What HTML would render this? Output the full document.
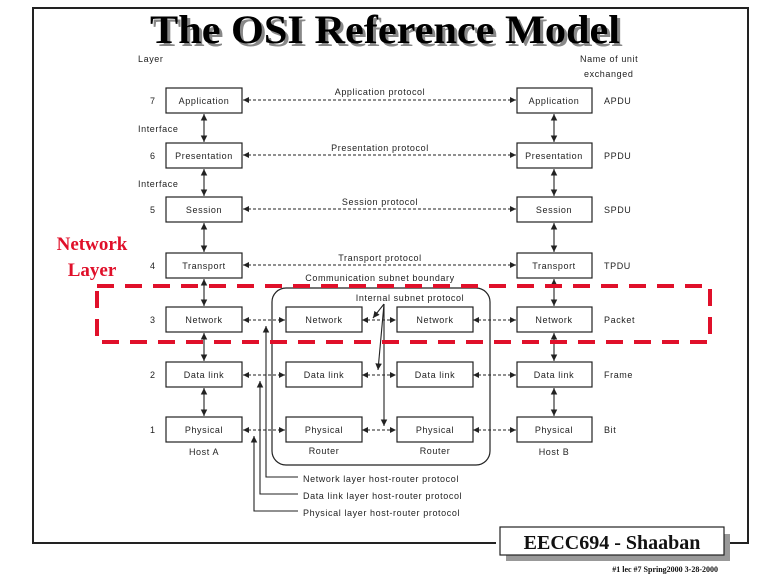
<!DOCTYPE html>
<html><head><meta charset="utf-8"><style>
html,body{margin:0;padding:0;background:#fff;width:768px;height:576px;overflow:hidden}
svg{display:block}
.t{font-family:"Liberation Sans",sans-serif;font-size:9px;fill:#222;letter-spacing:0.6px}
.b{fill:#fff;stroke:#222;stroke-width:1.2}
.d{stroke:#222;stroke-width:1;stroke-dasharray:3,2;fill:none}
.s{stroke:#222;stroke-width:1.1;fill:none}
</style></head><body>
<svg width="768" height="576" viewBox="0 0 768 576">
<defs>
<marker id="a" viewBox="0 0 6 6" refX="6" refY="3" markerWidth="6" markerHeight="6" orient="auto-start-reverse"><path d="M0,0L6,3L0,6z" fill="#222"/></marker>
</defs>
<rect x="33" y="8" width="715" height="535" fill="none" stroke="#222" stroke-width="2"/>
<text x="388" y="46" text-anchor="middle" font-family="Liberation Serif,serif" font-weight="bold" font-size="40" fill="#888" textLength="470" lengthAdjust="spacingAndGlyphs">The OSI Reference Model</text>
<text x="385" y="43" text-anchor="middle" font-family="Liberation Serif,serif" font-weight="bold" font-size="40" fill="#000" textLength="470" lengthAdjust="spacingAndGlyphs">The OSI Reference Model</text>
<text class="t" x="138" y="62">Layer</text>
<text class="t" x="580" y="62">Name of unit</text>
<text class="t" x="584" y="77">exchanged</text>
<text class="t" x="138" y="132">Interface</text>
<text class="t" x="138" y="187">Interface</text>
<text font-family="Liberation Serif,serif" font-weight="bold" font-size="19" fill="#e0102a" x="92" y="250" text-anchor="middle">Network</text>
<text font-family="Liberation Serif,serif" font-weight="bold" font-size="19" fill="#e0102a" x="92" y="276" text-anchor="middle">Layer</text>
<rect x="272" y="288" width="218" height="177" rx="14" fill="none" stroke="#222" stroke-width="1.2"/>
<text class="t" x="380" y="281" text-anchor="middle">Communication subnet boundary</text>
<text class="t" x="410" y="301" text-anchor="middle">Internal subnet protocol</text>
<!-- vertical host segments -->
<g>
<line class="s" x1="204" y1="114" x2="204" y2="142" marker-start="url(#a)" marker-end="url(#a)"/>
<line class="s" x1="204" y1="169" x2="204" y2="196" marker-start="url(#a)" marker-end="url(#a)"/>
<line class="s" x1="204" y1="223" x2="204" y2="252" marker-start="url(#a)" marker-end="url(#a)"/>
<line class="s" x1="204" y1="279" x2="204" y2="306" marker-start="url(#a)" marker-end="url(#a)"/>
<line class="s" x1="204" y1="333" x2="204" y2="361" marker-start="url(#a)" marker-end="url(#a)"/>
<line class="s" x1="204" y1="388" x2="204" y2="416" marker-start="url(#a)" marker-end="url(#a)"/>
<line class="s" x1="554" y1="114" x2="554" y2="142" marker-start="url(#a)" marker-end="url(#a)"/>
<line class="s" x1="554" y1="169" x2="554" y2="196" marker-start="url(#a)" marker-end="url(#a)"/>
<line class="s" x1="554" y1="223" x2="554" y2="252" marker-start="url(#a)" marker-end="url(#a)"/>
<line class="s" x1="554" y1="279" x2="554" y2="306" marker-start="url(#a)" marker-end="url(#a)"/>
<line class="s" x1="554" y1="333" x2="554" y2="361" marker-start="url(#a)" marker-end="url(#a)"/>
<line class="s" x1="554" y1="388" x2="554" y2="416" marker-start="url(#a)" marker-end="url(#a)"/>
</g>
<g>
<line class="d" x1="243" y1="100" x2="516" y2="100" marker-start="url(#a)" marker-end="url(#a)"/>
<line class="d" x1="243" y1="155" x2="516" y2="155" marker-start="url(#a)" marker-end="url(#a)"/>
<line class="d" x1="243" y1="209" x2="516" y2="209" marker-start="url(#a)" marker-end="url(#a)"/>
<line class="d" x1="243" y1="265" x2="516" y2="265" marker-start="url(#a)" marker-end="url(#a)"/>
<text class="t" x="380" y="95" text-anchor="middle">Application protocol</text>
<text class="t" x="380" y="151" text-anchor="middle">Presentation protocol</text>
<text class="t" x="380" y="205" text-anchor="middle">Session protocol</text>
<text class="t" x="380" y="261" text-anchor="middle">Transport protocol</text>
</g>
<g>
<line class="d" x1="243" y1="320" x2="285" y2="320" marker-start="url(#a)" marker-end="url(#a)"/>
<line class="d" x1="362" y1="320" x2="396" y2="320" marker-start="url(#a)" marker-end="url(#a)"/>
<line class="d" x1="473" y1="320" x2="516" y2="320" marker-start="url(#a)" marker-end="url(#a)"/>
<line class="d" x1="243" y1="375" x2="285" y2="375" marker-start="url(#a)" marker-end="url(#a)"/>
<line class="d" x1="362" y1="375" x2="396" y2="375" marker-start="url(#a)" marker-end="url(#a)"/>
<line class="d" x1="473" y1="375" x2="516" y2="375" marker-start="url(#a)" marker-end="url(#a)"/>
<line class="d" x1="243" y1="430" x2="285" y2="430" marker-start="url(#a)" marker-end="url(#a)"/>
<line class="d" x1="362" y1="430" x2="396" y2="430" marker-start="url(#a)" marker-end="url(#a)"/>
<line class="d" x1="473" y1="430" x2="516" y2="430" marker-start="url(#a)" marker-end="url(#a)"/>
</g>
<line class="s" x1="384" y1="304" x2="373" y2="318" marker-end="url(#a)"/>
<line class="s" x1="384" y1="304" x2="378" y2="370" marker-end="url(#a)"/>
<line class="s" x1="384" y1="304" x2="384" y2="426" marker-end="url(#a)"/>
<path class="s" d="M298,477 H266 V326" marker-end="url(#a)"/>
<path class="s" d="M298,494 H260 V381" marker-end="url(#a)"/>
<path class="s" d="M298,511 H254 V436" marker-end="url(#a)"/>
<text class="t" x="303" y="482">Network layer host-router protocol</text>
<text class="t" x="303" y="499">Data link layer host-router protocol</text>
<text class="t" x="303" y="516">Physical layer host-router protocol</text>
<g>
<rect class="b" x="166" y="88" width="76" height="25"/><text class="t" x="204" y="104" text-anchor="middle">Application</text>
<rect class="b" x="166" y="143" width="76" height="25"/><text class="t" x="204" y="159" text-anchor="middle">Presentation</text>
<rect class="b" x="166" y="197" width="76" height="25"/><text class="t" x="204" y="213" text-anchor="middle">Session</text>
<rect class="b" x="166" y="253" width="76" height="25"/><text class="t" x="204" y="269" text-anchor="middle">Transport</text>
<rect class="b" x="166" y="307" width="76" height="25"/><text class="t" x="204" y="323" text-anchor="middle">Network</text>
<rect class="b" x="166" y="362" width="76" height="25"/><text class="t" x="204" y="378" text-anchor="middle">Data link</text>
<rect class="b" x="166" y="417" width="76" height="25"/><text class="t" x="204" y="433" text-anchor="middle">Physical</text>
<rect class="b" x="517" y="88" width="75" height="25"/><text class="t" x="554" y="104" text-anchor="middle">Application</text>
<rect class="b" x="517" y="143" width="75" height="25"/><text class="t" x="554" y="159" text-anchor="middle">Presentation</text>
<rect class="b" x="517" y="197" width="75" height="25"/><text class="t" x="554" y="213" text-anchor="middle">Session</text>
<rect class="b" x="517" y="253" width="75" height="25"/><text class="t" x="554" y="269" text-anchor="middle">Transport</text>
<rect class="b" x="517" y="307" width="75" height="25"/><text class="t" x="554" y="323" text-anchor="middle">Network</text>
<rect class="b" x="517" y="362" width="75" height="25"/><text class="t" x="554" y="378" text-anchor="middle">Data link</text>
<rect class="b" x="517" y="417" width="75" height="25"/><text class="t" x="554" y="433" text-anchor="middle">Physical</text>
<rect class="b" x="286" y="307" width="76" height="25"/><text class="t" x="324" y="323" text-anchor="middle">Network</text>
<rect class="b" x="286" y="362" width="76" height="25"/><text class="t" x="324" y="378" text-anchor="middle">Data link</text>
<rect class="b" x="286" y="417" width="76" height="25"/><text class="t" x="324" y="433" text-anchor="middle">Physical</text>
<rect class="b" x="397" y="307" width="76" height="25"/><text class="t" x="435" y="323" text-anchor="middle">Network</text>
<rect class="b" x="397" y="362" width="76" height="25"/><text class="t" x="435" y="378" text-anchor="middle">Data link</text>
<rect class="b" x="397" y="417" width="76" height="25"/><text class="t" x="435" y="433" text-anchor="middle">Physical</text>
</g>
<g>
<text class="t" x="150" y="104">7</text><text class="t" x="150" y="159">6</text><text class="t" x="150" y="213">5</text><text class="t" x="150" y="269">4</text><text class="t" x="150" y="323">3</text><text class="t" x="150" y="378">2</text><text class="t" x="150" y="433">1</text>
<text class="t" x="604" y="104">APDU</text><text class="t" x="604" y="159">PPDU</text><text class="t" x="604" y="213">SPDU</text><text class="t" x="604" y="269">TPDU</text><text class="t" x="604" y="323">Packet</text><text class="t" x="604" y="378">Frame</text><text class="t" x="604" y="433">Bit</text>
<text class="t" x="204" y="455" text-anchor="middle">Host A</text>
<text class="t" x="324" y="454" text-anchor="middle">Router</text>
<text class="t" x="435" y="454" text-anchor="middle">Router</text>
<text class="t" x="554" y="455" text-anchor="middle">Host B</text>
</g>
<rect x="97" y="286" width="613" height="56" fill="none" stroke="#e0102a" stroke-width="4" stroke-dasharray="17,11"/>
<rect x="496" y="530" width="230" height="30" fill="#fff"/>
<rect x="506" y="534" width="224" height="27" fill="#999"/>
<rect x="500" y="527" width="224" height="28" fill="#fff" stroke="#222" stroke-width="1.2"/>
<text x="612" y="549" text-anchor="middle" font-family="Liberation Serif,serif" font-weight="bold" font-size="20" fill="#111">EECC694 - Shaaban</text>
<text x="718" y="572" text-anchor="end" font-family="Liberation Serif,serif" font-weight="bold" font-size="8" fill="#111">#1 lec #7 Spring2000 3-28-2000</text>
</svg>
</body></html>
